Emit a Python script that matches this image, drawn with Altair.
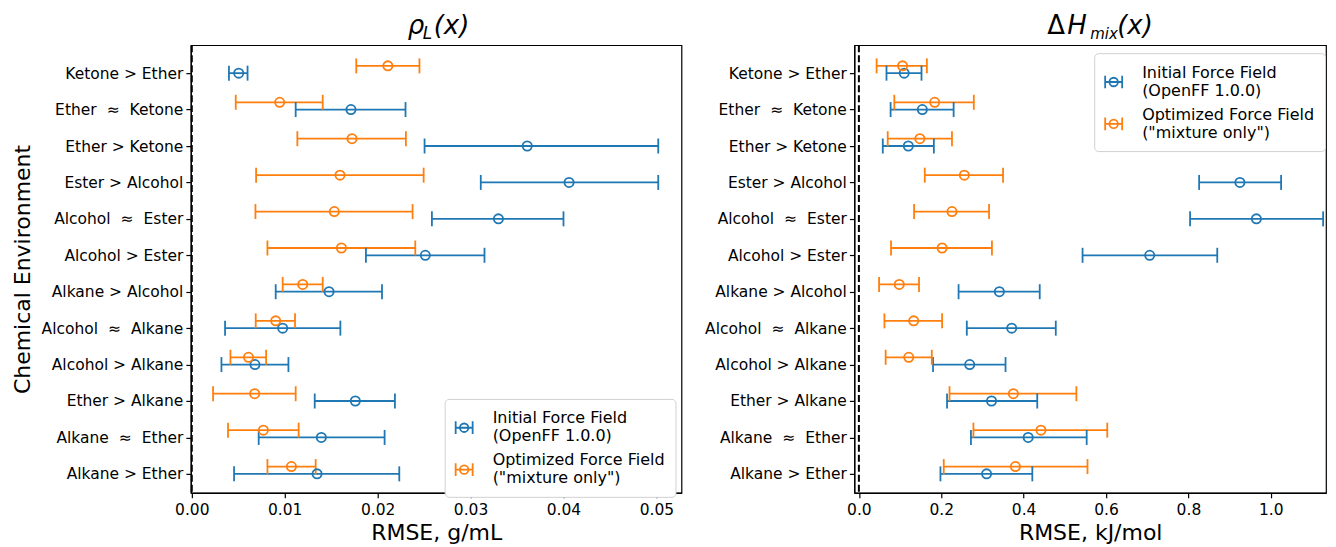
import json
import altair as alt
import pandas as pd

# ---------------- data ----------------
AP = "\u2004\u2248\u2004"
categories = [
    "Ketone > Ether",
    "Ether " + AP + " Ketone",
    "Ether > Ketone",
    "Ester > Alcohol",
    "Alcohol " + AP + " Ester",
    "Alcohol > Ester",
    "Alkane > Alcohol",
    "Alcohol " + AP + " Alkane",
    "Alcohol > Alkane",
    "Ether > Alkane",
    "Alkane " + AP + " Ether",
    "Alkane > Ether",
]
series_names = [
    "Initial Force Field|\u00a0\u00a0(OpenFF 1.0.0)",
    "Optimized Force Field|\u00a0\u00a0(\"mixture only\")",
]
series_colors = ["#1f77b4", "#ff7f0e"]

# density RMSE, g/mL
rho_init = [0.00505, 0.01713, 0.0361, 0.0406, 0.0330, 0.02513, 0.01477, 0.00978, 0.0068, 0.0176, 0.01394, 0.01348]
rho_init_lo = [0.0040, 0.01118, 0.02505, 0.0311, 0.02584, 0.01874, 0.00903, 0.00358, 0.00319, 0.01323, 0.0072, 0.00455]
rho_init_hi = [0.0060, 0.0230, 0.0502, 0.0502, 0.0400, 0.0315, 0.02047, 0.01599, 0.0104, 0.02186, 0.02075, 0.02233]
rho_opt = [0.0211, 0.00946, 0.01724, 0.01595, 0.01534, 0.0161, 0.01194, 0.00903, 0.0061, 0.00677, 0.0077, 0.01072]
rho_opt_lo = [0.0177, 0.00473, 0.01136, 0.00692, 0.00685, 0.00814, 0.00978, 0.00688, 0.00416, 0.00229, 0.0039, 0.00814]
rho_opt_hi = [0.0245, 0.01409, 0.02304, 0.02495, 0.02376, 0.02405, 0.01409, 0.01111, 0.0080, 0.01118, 0.0115, 0.01333]

# enthalpy of mixing RMSE, kJ/mol
h_init = [0.110, 0.154, 0.120, 0.925, 0.965, 0.706, 0.341, 0.371, 0.269, 0.322, 0.411, 0.310]
h_init_lo = [0.067, 0.077, 0.058, 0.826, 0.804, 0.543, 0.242, 0.262, 0.180, 0.214, 0.272, 0.198]
h_init_hi = [0.152, 0.230, 0.182, 1.025, 1.127, 0.870, 0.439, 0.478, 0.356, 0.433, 0.553, 0.421]
h_opt = [0.106, 0.184, 0.148, 0.256, 0.226, 0.202, 0.098, 0.133, 0.121, 0.375, 0.442, 0.380]
h_opt_lo = [0.043, 0.086, 0.070, 0.160, 0.134, 0.078, 0.049, 0.062, 0.065, 0.220, 0.278, 0.206]
h_opt_hi = [0.165, 0.279, 0.226, 0.350, 0.316, 0.323, 0.146, 0.202, 0.177, 0.528, 0.603, 0.555]

rho_ticks = [0.0, 0.01, 0.02, 0.03, 0.04, 0.05]
h_ticks = [0.0, 0.2, 0.4, 0.6, 0.8, 1.0]

left_title = ["\u03c1", "L", "(x)"]
right_title = ["\u0394", "H", "mix", "(x)"]

FONT = "DejaVu Sans"
DODGE = 0.2
H = 448


def make_df(init, init_lo, init_hi, opt, opt_lo, opt_hi):
    rows = []
    for s, (c, lo, hi) in enumerate([(init, init_lo, init_hi), (opt, opt_lo, opt_hi)]):
        for i, cat in enumerate(categories):
            rows.append({
                "cat": cat, "idx": i, "ypos": i - DODGE * s,
                "series": series_names[s], "val": c[i], "lo": lo[i], "hi": hi[i],
            })
    return pd.DataFrame(rows)


label_expr = json.dumps(categories, ensure_ascii=False) + "[datum.value]"
# error-bar glyph for the legend (shifted down so it sits between the two label lines)
ERR_SYMBOL = ("M-1,0.35L-1,1.85M-1,1.1L1,1.1M1,0.35L1,1.85"
              "M0.5,1.1A0.5,0.5 0 1,1 -0.5,1.1A0.5,0.5 0 1,1 0.5,1.1")
CAP = "M0,-1L0,1"


def panel(df, domain, ticks, fmt, xtitle, ytitle, width, legend_xy, title_parts):
    color = alt.Scale(domain=series_names, range=series_colors)
    legend = alt.Legend(
        title=None, orient="none", legendX=legend_xy[0], legendY=legend_xy[1],
        symbolType=ERR_SYMBOL, symbolSize=289, symbolStrokeWidth=1.8, symbolOpacity=1,
        symbolFillColor="transparent", labelFontSize=16, labelLimit=400,
        labelExpr="split(datum.label, '|')", labelColor="black", labelFont=FONT,
        strokeColor="#d0d0d0", fillColor="white", padding=10, cornerRadius=4,
        rowPadding=6, labelOffset=19)
    stroke = alt.Stroke("series:N", scale=color, legend=legend)
    x_enc = alt.X("val:Q", scale=alt.Scale(domain=domain, nice=False, zero=False),
                  axis=alt.Axis(values=ticks, format=fmt, title=xtitle, grid=False,
                                tickSize=5, labelPadding=5, titlePadding=4,
                                labelFlush=False))
    y_enc = alt.Y("ypos:Q",
                  scale=alt.Scale(domain=[-0.768, 11.521], reverse=True, nice=False, zero=False),
                  axis=alt.Axis(values=list(range(len(categories))), labelExpr=label_expr,
                                title=ytitle, grid=False, tickSize=5, labelPadding=3,
                                titlePadding=6, labelFlush=False))
    base = alt.Chart(df)
    zero_line = alt.Chart(pd.DataFrame({"z": [0.0]})).mark_rule(
        strokeDash=[7, 3], strokeWidth=2, color="black").encode(x="z:Q")
    bars = base.mark_rule(strokeWidth=1.8, opacity=1).encode(
        x=alt.X("lo:Q"), x2="hi:Q", y=alt.Y("ypos:Q"), stroke=stroke)
    cap_lo = base.mark_point(shape=CAP, size=225, strokeWidth=1.8, filled=False,
                             opacity=1).encode(x="lo:Q", y="ypos:Q", stroke=stroke)
    cap_hi = base.mark_point(shape=CAP, size=225, strokeWidth=1.8, filled=False,
                             opacity=1).encode(x="hi:Q", y="ypos:Q", stroke=stroke)
    pts = base.mark_point(shape="circle", filled=False, size=85, strokeWidth=1.8,
                          opacity=1).encode(x=x_enc, y=y_enc, stroke=stroke)
    layers = [zero_line, bars, cap_lo, cap_hi, pts]
    for piece in title_parts:
        txt, dx, sub, italic = piece
        layers.append(
            alt.Chart(pd.DataFrame({"t": [txt]})).mark_text(
                align="left", baseline="alphabetic", font=FONT,
                fontSize=sub if sub else 26, fontStyle="italic" if italic else "normal",
                color="black").encode(
                text="t:N", x=alt.value(dx), y=alt.value(-6 if sub else -11)))
    return alt.layer(*layers).properties(width=width, height=H)


rho_df = make_df(rho_init, rho_init_lo, rho_init_hi, rho_opt, rho_opt_lo, rho_opt_hi)
h_df = make_df(h_init, h_init_lo, h_init_hi, h_opt, h_opt_lo, h_opt_hi)

left = panel(rho_df, [-0.0001, 0.0527], rho_ticks, ".2f", "RMSE, g/mL",
             "Chemical Environment", 491, (254, 354),
             [(left_title[0], 217, 0, True), (left_title[1], 232, 17, True),
              (left_title[2], 243, 0, True)])
right = panel(h_df, [-0.011, 1.134], h_ticks, ".1f", "RMSE, kJ/mol",
              None, 472, (240, 8),
              [(right_title[0], 193, 0, False), (right_title[1], 213, 0, True),
               (right_title[2], 236, 15, True), (right_title[3], 263, 0, True)])

chart = alt.hconcat(left, right, spacing=21).resolve_legend(
    stroke="independent").properties(
    padding={"left": 3, "top": 4, "right": 0, "bottom": 0}
).configure_view(stroke="black", strokeWidth=1.2).configure_axis(
    labelFont=FONT, titleFont=FONT, labelFontSize=15.5, titleFontSize=22,
    titleFontWeight="normal", labelColor="black", titleColor="black",
    tickColor="black", domainColor="black", domainWidth=1.2, tickWidth=1.2
).configure_text(font=FONT)

chart.save("out.html", embed_options={"renderer": "svg", "actions": False})
